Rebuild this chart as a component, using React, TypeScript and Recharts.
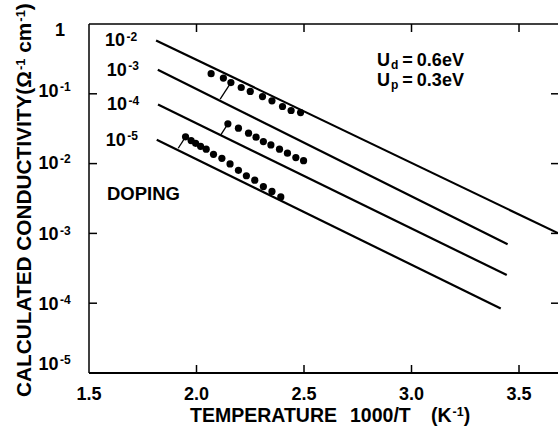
import React from 'react';
import { ComposedChart, XAxis, YAxis, Line, Scatter } from 'recharts';

const FONT = '"Liberation Sans", Arial, Helvetica, sans-serif';

const xTicks = [1.5, 2.0, 2.5, 3.0, 3.5];
const xTickLabels = ['1.5', '2.0', '2.5', '3.0', '3.5'];
const yTicks = [1e-5, 1e-4, 1e-3, 1e-2, 1e-1, 1];
const yTickExponents = [-5, -4, -3, -2, -1, 0];
const xDomain = [1.5, 3.686];
const yDomain = [1e-5, 1];

// calculated conductivity lines, one per doping level
const dopingExponents = [-2, -3, -4, -5];
const lineDoping1e2 = [{ x: 1.812, y: 0.582 }, { x: 3.681, y: 1.01e-3 }];
const lineDoping1e3 = [{ x: 1.820, y: 0.221 }, { x: 3.447, y: 6.98e-4 }];
const lineDoping1e4 = [{ x: 1.821, y: 0.0703 }, { x: 3.443, y: 2.53e-4 }];
const lineDoping1e5 = [{ x: 1.815, y: 0.0219 }, { x: 3.415, y: 8.4e-5 }];
const modelLines = [lineDoping1e2, lineDoping1e3, lineDoping1e4, lineDoping1e5];

// measured points
const measuredA = [
  { x: 2.068, y: 0.194 }, { x: 2.125, y: 0.168 }, { x: 2.160, y: 0.145 },
  { x: 2.208, y: 0.123 }, { x: 2.250, y: 0.108 }, { x: 2.307, y: 0.0914 },
  { x: 2.351, y: 0.0794 }, { x: 2.400, y: 0.0658 }, { x: 2.440, y: 0.0576 },
  { x: 2.484, y: 0.0539 },
];
const measuredB = [
  { x: 2.146, y: 0.0371 }, { x: 2.195, y: 0.0322 }, { x: 2.242, y: 0.0273 },
  { x: 2.277, y: 0.0239 }, { x: 2.311, y: 0.0207 }, { x: 2.346, y: 0.0185 },
  { x: 2.386, y: 0.0161 }, { x: 2.423, y: 0.0141 }, { x: 2.462, y: 0.0122 },
  { x: 2.498, y: 0.0110 },
];
const measuredC = [
  { x: 1.949, y: 0.0242 }, { x: 1.975, y: 0.0214 }, { x: 1.996, y: 0.0195 },
  { x: 2.019, y: 0.0177 }, { x: 2.045, y: 0.0161 }, { x: 2.079, y: 0.0136 },
  { x: 2.118, y: 0.0119 }, { x: 2.156, y: 0.0099 }, { x: 2.195, y: 0.0080 },
  { x: 2.232, y: 0.0067 }, { x: 2.271, y: 0.00578 }, { x: 2.311, y: 0.00468 },
  { x: 2.351, y: 0.00399 }, { x: 2.392, y: 0.00333 },
];

// leader strokes from a data group to its line
const pointerA = [{ x: 2.160, y: 0.145 }, { x: 2.110, y: 0.0839 }];
const pointerB = [{ x: 2.146, y: 0.0371 }, { x: 2.113, y: 0.0258 }];
const pointerC = [{ x: 1.949, y: 0.0242 }, { x: 1.915, y: 0.0166 }];

const dopingLabelPoints = modelLines.map((l, i) => ({ x: l[0].x, y: l[0].y, exp: dopingExponents[i] }));

const txt = { fontFamily: FONT, fontWeight: 'bold' as const, fill: '#000' };

const XTick = (props: any) => {
  const { x, y, payload } = props;
  const i = xTicks.findIndex((t) => Math.abs(t - payload.value) < 1e-9);
  return (
    <g>
      {i > 0 && <line x1={x} x2={x} y1={y} y2={y - 8} stroke="#000" strokeWidth={1.5} />}
      <text x={x} y={y + 26.5} textAnchor="middle" fontSize={18} {...txt}>{xTickLabels[i]}</text>
    </g>
  );
};

const TopTick = (props: any) => {
  const { x, y, payload } = props;
  if (Math.abs(payload.value - xDomain[0]) < 1e-9) return <g />;
  return <line x1={x} x2={x} y1={y} y2={y + 8} stroke="#000" strokeWidth={1.5} />;
};

const baselineShift: Record<number, number> = { 0: 12.3, [-1]: 3, [-2]: 5, [-3]: 7, [-4]: 6.6, [-5]: -3.4 };

const YTick = (props: any) => {
  const { x, y, payload } = props;
  const i = yTicks.findIndex((t) => Math.abs(Math.log10(t) - Math.log10(payload.value)) < 1e-6);
  const e = i >= 0 ? yTickExponents[i] : Math.round(Math.log10(payload.value));
  const by = y + (baselineShift[e] ?? 5);
  return (
    <g>
      {e > -5 && e < 0 && <line x1={x} x2={x + 8} y1={y} y2={y} stroke="#000" strokeWidth={1.5} />}
      {e === 0 ? (
        <text x={x - 34} y={by} fontSize={18} {...txt}>1</text>
      ) : (
        <text x={x - 50.5} y={by} fontSize={18} {...txt}>
          10<tspan dx={1.5} dy={-5.5} fontSize={12}>{String(e)}</tspan>
        </text>
      )}
    </g>
  );
};

const RightTick = (props: any) => {
  const { x, y, payload } = props;
  const e = Math.round(Math.log10(payload.value));
  if (e === 0 || e === -5) return <g />;
  return <line x1={x} x2={x - 8} y1={y} y2={y} stroke="#000" strokeWidth={1.5} />;
};

const Dot = (props: any) => <circle cx={props.cx} cy={props.cy} r={3.6} fill="#000" />;

const DopingLabel = (props: any) => {
  const { cx, cy, payload } = props;
  return (
    <text x={cx - 51} y={cy + 6} fontSize={18} {...txt}>
      10<tspan dx={1.5} dy={-5.5} fontSize={12}>{String(payload.exp)}</tspan>
    </text>
  );
};

export default function App() {
  return (
    <div style={{ position: 'absolute', left: 0, top: 0, width: 558, height: 427, overflow: 'hidden', background: '#fff' }}>
      <ComposedChart width={600} height={427} margin={{ top: 23, right: 40, bottom: 53, left: 88 }}>
        <XAxis
          type="number" dataKey="x" domain={xDomain} ticks={xTicks} allowDataOverflow
          height={1} tickSize={0} tickMargin={0} tickLine={false}
          axisLine={{ stroke: '#000', strokeWidth: 2 }} tick={<XTick />} interval={0}
        />
        <XAxis
          xAxisId="top" orientation="top" type="number" dataKey="x" domain={xDomain} ticks={xTicks} allowDataOverflow
          height={1} tickSize={0} tickMargin={0} tickLine={false}
          axisLine={{ stroke: '#000', strokeWidth: 1.5 }} tick={<TopTick />} interval={0}
        />
        <YAxis
          type="number" dataKey="y" scale="log" domain={yDomain} ticks={yTicks} allowDataOverflow
          width={1} tickSize={0} tickMargin={0} tickLine={false}
          axisLine={{ stroke: '#000', strokeWidth: 1.5 }} tick={<YTick />} interval={0}
        />
        <YAxis
          yAxisId="right" orientation="right" type="number" dataKey="y" scale="log" domain={yDomain} ticks={yTicks} allowDataOverflow
          width={1} tickSize={0} tickMargin={0} tickLine={false}
          axisLine={{ stroke: '#000', strokeWidth: 1.5 }} tick={<RightTick />} interval={0}
        />
        {modelLines.map((d, i) => (
          <Line key={'l' + i} data={d} dataKey="y" type="linear" stroke="#000" strokeWidth={2.2}
            dot={false} activeDot={false} isAnimationActive={false} />
        ))}
        {[pointerA, pointerB, pointerC].map((d, i) => (
          <Line key={'p' + i} data={d} dataKey="y" type="linear" stroke="#000" strokeWidth={1.3}
            dot={false} activeDot={false} isAnimationActive={false} />
        ))}
        <Scatter data={measuredA} dataKey="y" shape={<Dot />} isAnimationActive={false} />
        <Scatter data={measuredB} dataKey="y" shape={<Dot />} isAnimationActive={false} />
        <Scatter data={measuredC} dataKey="y" shape={<Dot />} isAnimationActive={false} />
        <Scatter data={dopingLabelPoints} dataKey="y" shape={<DopingLabel />} isAnimationActive={false} />

        <text x={107} y={200} fontSize={18.5} {...txt}>DOPING</text>

        <text x={377} y={66} fontSize={18} {...txt}>
          U<tspan dx={1} dy={3} fontSize={12}>d</tspan>
          <tspan dx={4} dy={-3}>=</tspan>
          <tspan dx={4}>0.6eV</tspan>
        </text>
        <text x={377} y={85.5} fontSize={18} {...txt}>
          U<tspan dx={1} dy={3} fontSize={12}>p</tspan>
          <tspan dx={4} dy={-3}>=</tspan>
          <tspan dx={4}>0.3eV</tspan>
        </text>

        <text y={421.5} fontSize={19.5} {...txt}>
          <tspan x={190}>TEMPERATURE</tspan>
          <tspan x={350}>1000/T</tspan>
          <tspan x={431}>(K</tspan>
          <tspan dx={1} dy={-6} fontSize={12.5}>-1</tspan>
          <tspan dy={6}>)</tspan>
        </text>

        <text x={30.5} y={397} fontSize={20.8} transform="rotate(-90 30.5 397)" {...txt}>
          CALCULATED CONDUCTIVITY(Ω
          <tspan dx={1} dy={-6} fontSize={13}>-1</tspan>
          <tspan dy={6}> cm</tspan>
          <tspan dx={1} dy={-6} fontSize={13}>-1</tspan>
          <tspan dy={6}>)</tspan>
        </text>
      </ComposedChart>
    </div>
  );
}
